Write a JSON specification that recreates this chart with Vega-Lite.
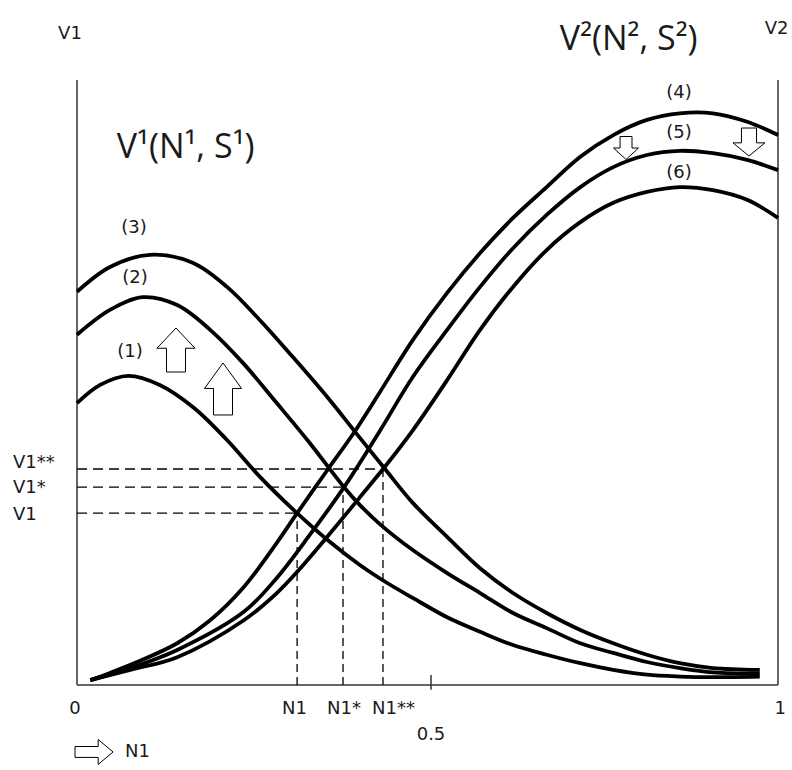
{
  "$schema": "https://vega.github.io/schema/vega-lite/v6.json",
  "width": 701,
  "height": 605,
  "autosize": {"type": "none"},
  "padding": {"left": 77, "top": 80, "right": 14, "bottom": 85},
  "background": "white",
  "config": {"view": {"stroke": null}},
  "datasets": {
    "curves": [
      {"c": "1", "x": 0, "y": 0.466}, {"c": "1", "x": 0.033, "y": 0.496}, {"c": "1", "x": 0.073, "y": 0.511}, {"c": "1", "x": 0.118, "y": 0.496}, {"c": "1", "x": 0.167, "y": 0.458}, {"c": "1", "x": 0.214, "y": 0.405}, {"c": "1", "x": 0.261, "y": 0.344}, {"c": "1", "x": 0.314, "y": 0.284}, {"c": "1", "x": 0.357, "y": 0.240}, {"c": "1", "x": 0.404, "y": 0.198}, {"c": "1", "x": 0.442, "y": 0.169}, {"c": "1", "x": 0.479, "y": 0.144}, {"c": "1", "x": 0.528, "y": 0.112}, {"c": "1", "x": 0.575, "y": 0.088}, {"c": "1", "x": 0.622, "y": 0.066}, {"c": "1", "x": 0.670, "y": 0.050}, {"c": "1", "x": 0.718, "y": 0.036}, {"c": "1", "x": 0.765, "y": 0.025}, {"c": "1", "x": 0.813, "y": 0.017}, {"c": "1", "x": 0.860, "y": 0.014}, {"c": "1", "x": 0.907, "y": 0.013}, {"c": "1", "x": 0.974, "y": 0.014},
      {"c": "2", "x": 0, "y": 0.579}, {"c": "2", "x": 0.047, "y": 0.620}, {"c": "2", "x": 0.094, "y": 0.641}, {"c": "2", "x": 0.143, "y": 0.628}, {"c": "2", "x": 0.190, "y": 0.587}, {"c": "2", "x": 0.237, "y": 0.532}, {"c": "2", "x": 0.285, "y": 0.466}, {"c": "2", "x": 0.332, "y": 0.400}, {"c": "2", "x": 0.381, "y": 0.327}, {"c": "2", "x": 0.404, "y": 0.297}, {"c": "2", "x": 0.432, "y": 0.266}, {"c": "2", "x": 0.479, "y": 0.223}, {"c": "2", "x": 0.528, "y": 0.185}, {"c": "2", "x": 0.575, "y": 0.152}, {"c": "2", "x": 0.622, "y": 0.119}, {"c": "2", "x": 0.670, "y": 0.094}, {"c": "2", "x": 0.718, "y": 0.069}, {"c": "2", "x": 0.765, "y": 0.053}, {"c": "2", "x": 0.813, "y": 0.038}, {"c": "2", "x": 0.860, "y": 0.028}, {"c": "2", "x": 0.907, "y": 0.021}, {"c": "2", "x": 0.974, "y": 0.019},
      {"c": "3", "x": 0, "y": 0.650}, {"c": "3", "x": 0.047, "y": 0.691}, {"c": "3", "x": 0.104, "y": 0.711}, {"c": "3", "x": 0.165, "y": 0.698}, {"c": "3", "x": 0.214, "y": 0.658}, {"c": "3", "x": 0.261, "y": 0.603}, {"c": "3", "x": 0.308, "y": 0.542}, {"c": "3", "x": 0.357, "y": 0.476}, {"c": "3", "x": 0.397, "y": 0.418}, {"c": "3", "x": 0.438, "y": 0.359}, {"c": "3", "x": 0.479, "y": 0.301}, {"c": "3", "x": 0.528, "y": 0.245}, {"c": "3", "x": 0.575, "y": 0.193}, {"c": "3", "x": 0.622, "y": 0.152}, {"c": "3", "x": 0.670, "y": 0.119}, {"c": "3", "x": 0.718, "y": 0.091}, {"c": "3", "x": 0.765, "y": 0.069}, {"c": "3", "x": 0.813, "y": 0.050}, {"c": "3", "x": 0.860, "y": 0.036}, {"c": "3", "x": 0.907, "y": 0.028}, {"c": "3", "x": 0.974, "y": 0.025},
      {"c": "4", "x": 0.019, "y": 0.008}, {"c": "4", "x": 0.047, "y": 0.020}, {"c": "4", "x": 0.090, "y": 0.040}, {"c": "4", "x": 0.143, "y": 0.069}, {"c": "4", "x": 0.190, "y": 0.107}, {"c": "4", "x": 0.238, "y": 0.162}, {"c": "4", "x": 0.285, "y": 0.235}, {"c": "4", "x": 0.314, "y": 0.284}, {"c": "4", "x": 0.357, "y": 0.355}, {"c": "4", "x": 0.395, "y": 0.417}, {"c": "4", "x": 0.432, "y": 0.484}, {"c": "4", "x": 0.479, "y": 0.570}, {"c": "4", "x": 0.528, "y": 0.648}, {"c": "4", "x": 0.575, "y": 0.714}, {"c": "4", "x": 0.622, "y": 0.772}, {"c": "4", "x": 0.670, "y": 0.823}, {"c": "4", "x": 0.718, "y": 0.873}, {"c": "4", "x": 0.765, "y": 0.909}, {"c": "4", "x": 0.813, "y": 0.934}, {"c": "4", "x": 0.860, "y": 0.945}, {"c": "4", "x": 0.907, "y": 0.945}, {"c": "4", "x": 0.956, "y": 0.931}, {"c": "4", "x": 1.0, "y": 0.909},
      {"c": "5", "x": 0.019, "y": 0.008}, {"c": "5", "x": 0.076, "y": 0.028}, {"c": "5", "x": 0.143, "y": 0.058}, {"c": "5", "x": 0.238, "y": 0.121}, {"c": "5", "x": 0.285, "y": 0.177}, {"c": "5", "x": 0.332, "y": 0.248}, {"c": "5", "x": 0.381, "y": 0.327}, {"c": "5", "x": 0.432, "y": 0.420}, {"c": "5", "x": 0.479, "y": 0.509}, {"c": "5", "x": 0.528, "y": 0.587}, {"c": "5", "x": 0.575, "y": 0.658}, {"c": "5", "x": 0.622, "y": 0.722}, {"c": "5", "x": 0.670, "y": 0.777}, {"c": "5", "x": 0.718, "y": 0.823}, {"c": "5", "x": 0.765, "y": 0.856}, {"c": "5", "x": 0.813, "y": 0.876}, {"c": "5", "x": 0.860, "y": 0.883}, {"c": "5", "x": 0.907, "y": 0.879}, {"c": "5", "x": 0.956, "y": 0.868}, {"c": "5", "x": 1.0, "y": 0.851},
      {"c": "6", "x": 0.019, "y": 0.008}, {"c": "6", "x": 0.076, "y": 0.025}, {"c": "6", "x": 0.143, "y": 0.046}, {"c": "6", "x": 0.238, "y": 0.107}, {"c": "6", "x": 0.285, "y": 0.152}, {"c": "6", "x": 0.314, "y": 0.187}, {"c": "6", "x": 0.357, "y": 0.245}, {"c": "6", "x": 0.404, "y": 0.311}, {"c": "6", "x": 0.438, "y": 0.359}, {"c": "6", "x": 0.479, "y": 0.421}, {"c": "6", "x": 0.528, "y": 0.504}, {"c": "6", "x": 0.575, "y": 0.587}, {"c": "6", "x": 0.622, "y": 0.658}, {"c": "6", "x": 0.670, "y": 0.719}, {"c": "6", "x": 0.718, "y": 0.765}, {"c": "6", "x": 0.765, "y": 0.797}, {"c": "6", "x": 0.813, "y": 0.815}, {"c": "6", "x": 0.860, "y": 0.823}, {"c": "6", "x": 0.907, "y": 0.818}, {"c": "6", "x": 0.956, "y": 0.802}, {"c": "6", "x": 1.0, "y": 0.772}
    ],
    "frame": [
      {"x": 0, "x2": 0, "y": 0, "y2": 1},
      {"x": 1, "x2": 1, "y": 0, "y2": 1},
      {"x": 0, "x2": 1, "y": 0, "y2": 0},
      {"x": 0.505, "x2": 0.505, "y": -0.008, "y2": 0.0165}
    ],
    "dashes": [
      {"d": "h", "x": 0, "x2": 0.314, "y": 0.284, "y2": 0.284},
      {"d": "h", "x": 0, "x2": 0.3795, "y": 0.327, "y2": 0.327},
      {"d": "h", "x": 0, "x2": 0.4365, "y": 0.357, "y2": 0.357},
      {"d": "v", "x": 0.314, "x2": 0.314, "y": 0, "y2": 0.284},
      {"d": "v", "x": 0.3795, "x2": 0.3795, "y": 0, "y2": 0.327},
      {"d": "v", "x": 0.4365, "x2": 0.4365, "y": 0, "y2": 0.357}
    ],
    "labels": [
      {"g": "c", "t": "V1", "x": -0.010, "y": 1.076},
      {"g": "c", "t": "V2", "x": 0.998, "y": 1.084},
      {"g": "c", "t": "0", "x": -0.003, "y": -0.040},
      {"g": "c", "t": "1", "x": 1.003, "y": -0.040},
      {"g": "c", "t": "0.5", "x": 0.505, "y": -0.083},
      {"g": "c", "t": "(1)", "x": 0.0756, "y": 0.550},
      {"g": "c", "t": "(2)", "x": 0.0827, "y": 0.673},
      {"g": "c", "t": "(3)", "x": 0.0813, "y": 0.755},
      {"g": "c", "t": "(4)", "x": 0.8588, "y": 0.9785},
      {"g": "c", "t": "(5)", "x": 0.8588, "y": 0.912},
      {"g": "c", "t": "(6)", "x": 0.8588, "y": 0.846},
      {"g": "l", "t": "N1", "x": 0.2924, "y": -0.040},
      {"g": "l", "t": "N1*", "x": 0.3566, "y": -0.040},
      {"g": "l", "t": "N1**", "x": 0.4208, "y": -0.040},
      {"g": "l", "t": "V1**", "x": -0.0913, "y": 0.367},
      {"g": "l", "t": "V1*", "x": -0.0913, "y": 0.326},
      {"g": "l", "t": "V1", "x": -0.0913, "y": 0.281},
      {"g": "l", "t": "N1", "x": 0.0685, "y": -0.111},
      {"g": "t", "t": "V¹(N¹, S¹)", "x": 0.155, "y": 0.888},
      {"g": "t", "t": "V²(N², S²)", "x": 0.787, "y": 1.066}
    ],
    "arrows": [
      {"a": "up1", "x": 0.1412, "y": 0.5537},
      {"a": "up2", "x": 0.2083, "y": 0.4893},
      {"a": "down1", "x": 0.7832, "y": 0.8876},
      {"a": "down2", "x": 0.9586, "y": 0.8975},
      {"a": "right", "x": 0.0243, "y": -0.1107}
    ]
  },
  "encoding": {
    "x": {"field": "x", "type": "quantitative", "scale": {"domain": [0, 1], "nice": false, "zero": false}, "axis": null},
    "y": {"field": "y", "type": "quantitative", "scale": {"domain": [0, 1], "nice": false, "zero": false}, "axis": null}
  },
  "layer": [
    {
      "data": {"name": "frame"},
      "mark": {"type": "rule", "stroke": "#333333", "strokeWidth": 1.5},
      "encoding": {"x2": {"field": "x2"}, "y2": {"field": "y2"}}
    },
    {
      "data": {"name": "dashes"},
      "transform": [{"filter": "datum.d === 'h'"}],
      "mark": {"type": "rule", "stroke": "black", "strokeWidth": 1.3, "strokeDash": [10, 6]},
      "encoding": {"x2": {"field": "x2"}, "y2": {"field": "y2"}}
    },
    {
      "data": {"name": "dashes"},
      "transform": [{"filter": "datum.d === 'v'"}],
      "mark": {"type": "rule", "stroke": "black", "strokeWidth": 1.3, "strokeDash": [8, 5]},
      "encoding": {"x2": {"field": "x2"}, "y2": {"field": "y2"}}
    },
    {
      "data": {"name": "curves"},
      "mark": {"type": "line", "color": "black", "strokeWidth": 3.8, "interpolate": "catmull-rom"},
      "encoding": {"detail": {"field": "c", "type": "nominal"}}
    },
    {
      "data": {"name": "arrows"},
      "mark": {"type": "point", "filled": true, "fill": "white", "stroke": "black", "strokeWidth": 1, "size": 2704, "opacity": 1},
      "encoding": {
        "shape": {
          "field": "a", "type": "nominal", "legend": null,
          "scale": {
            "domain": ["up1", "up2", "down1", "down2", "right"],
            "range": [
              "M0,-0.846L0.731,-0.068L0.365,-0.068L0.365,0.846L-0.365,0.846L-0.365,-0.068L-0.731,-0.068Z",
              "M0,-1L0.712,-0.02L0.365,-0.02L0.365,1L-0.365,1L-0.365,-0.02L-0.712,-0.02Z",
              "M-0.23,-0.442L0.23,-0.442L0.23,0L0.48,0L0,0.442L-0.48,0L-0.23,0Z",
              "M-0.29,-0.538L0.29,-0.538L0.29,0.032L0.615,0.032L0,0.538L-0.615,0.032L-0.29,0.032Z",
              "M-0.731,-0.21L0.159,-0.21L0.159,-0.48L0.731,0L0.159,0.48L0.159,0.21L-0.731,0.21Z"
            ]
          }
        }
      }
    },
    {
      "data": {"name": "labels"},
      "transform": [{"filter": "datum.g === 'c'"}],
      "mark": {"type": "text", "font": "DejaVu Sans", "fontSize": 18, "color": "#1a1a1a", "align": "center", "baseline": "middle"},
      "encoding": {"text": {"field": "t"}}
    },
    {
      "data": {"name": "labels"},
      "transform": [{"filter": "datum.g === 'l'"}],
      "mark": {"type": "text", "font": "DejaVu Sans", "fontSize": 18, "color": "#1a1a1a", "align": "left", "baseline": "middle"},
      "encoding": {"text": {"field": "t"}}
    },
    {
      "data": {"name": "labels"},
      "transform": [{"filter": "datum.g === 't'"}],
      "mark": {"type": "text", "font": "Open Sans", "fontSize": 34, "color": "#1a1a1a", "align": "center", "baseline": "middle"},
      "encoding": {"text": {"field": "t"}}
    }
  ]
}
